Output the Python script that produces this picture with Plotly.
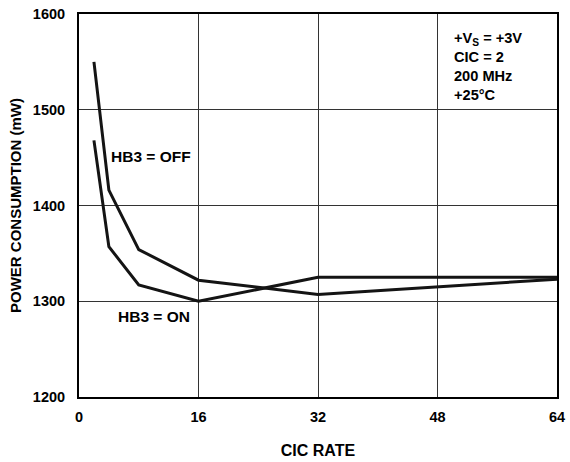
import plotly.graph_objects as go

cic_rate = [2, 4, 8, 16, 32, 64]
hb3_off = [1550, 1416, 1354, 1322, 1307, 1323]
hb3_on = [1468, 1357, 1317, 1300, 1325, 1325]
x_ticks = [0, 16, 32, 48, 64]
y_ticks = [1200, 1300, 1400, 1500, 1600]

FONT = "Arial, Liberation Sans, Helvetica, sans-serif"
LINE_COLOR = "#141414"

fig = go.Figure()
fig.add_trace(go.Scatter(x=cic_rate, y=hb3_off, mode="lines",
                         line=dict(color=LINE_COLOR, width=3), name="HB3 = OFF"))
fig.add_trace(go.Scatter(x=cic_rate, y=hb3_on, mode="lines",
                         line=dict(color=LINE_COLOR, width=3), name="HB3 = ON"))

fig.add_annotation(x=4.0, y=1451, xref="x", yref="y", text="<b>HB3 = OFF</b>",
                   showarrow=False, xanchor="left", yanchor="middle",
                   font=dict(family=FONT, size=15.5, color="black"))
fig.add_annotation(x=5.0, y=1284, xref="x", yref="y", text="<b>HB3 = ON</b>",
                   showarrow=False, xanchor="left", yanchor="middle",
                   font=dict(family=FONT, size=15.5, color="black"))
fig.add_annotation(x=50.0, y=1585, xref="x", yref="y",
                   text="<b>+V<sub>S</sub> = +3V<br>CIC = 2<br>200 MHz<br>+25°C</b>",
                   showarrow=False, xanchor="left", yanchor="top", align="left",
                   font=dict(family=FONT, size=14.6, color="black"))

fig.update_layout(
    width=570, height=462,
    margin=dict(l=79, r=13, t=14, b=65),
    plot_bgcolor="white", paper_bgcolor="white",
    showlegend=False,
    font=dict(family=FONT, size=14, color="black"),
)
fig.update_xaxes(
    range=[0, 64], tickvals=x_ticks, ticktext=[f"<b>{v}</b>" for v in x_ticks],
    showgrid=True, gridcolor="#333333", gridwidth=1.2,
    showline=True, linecolor="black", linewidth=2, mirror=True,
    ticks="", ticklabelstandoff=6, zeroline=False, automargin=False,
    tickfont=dict(family=FONT, size=14.5),
    title=dict(text="<b>CIC RATE</b>", font=dict(family=FONT, size=16), standoff=20),
)
fig.update_yaxes(
    range=[1200, 1600], tickvals=y_ticks, ticktext=[f"<b>{v}</b>" for v in y_ticks],
    showgrid=True, gridcolor="#333333", gridwidth=1.2,
    showline=True, linecolor="black", linewidth=2, mirror=True,
    ticks="", ticklabelstandoff=9, zeroline=False, automargin=False,
    tickfont=dict(family=FONT, size=14.5),
    title=dict(text="<b>POWER CONSUMPTION (mW)</b>", font=dict(family=FONT, size=15), standoff=8),
)

fig.write_html("out.html", config={"displayModeBar": False},
               post_script="document.body.style.margin='0';")
